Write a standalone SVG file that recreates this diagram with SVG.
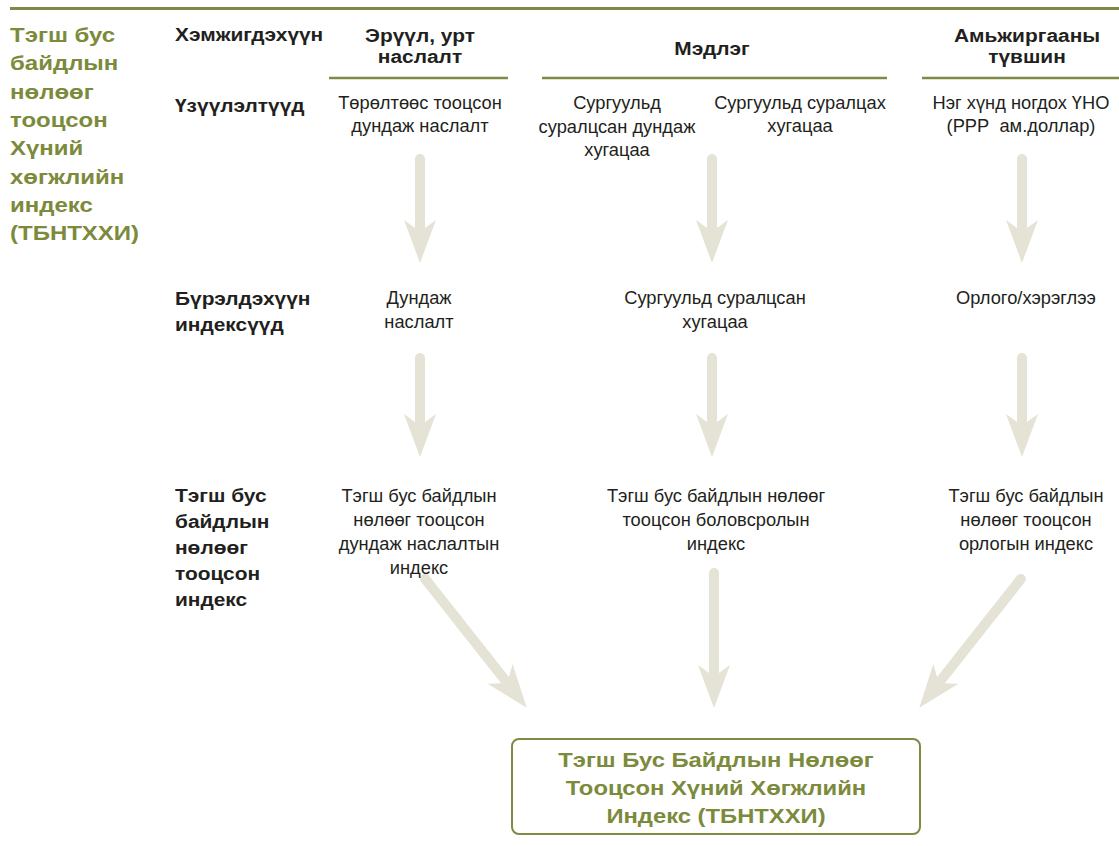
<svg xmlns="http://www.w3.org/2000/svg" width="1119" height="846" viewBox="0 0 1119 846">
<style>
.t{font-family:"Liberation Sans",Arial,sans-serif;font-size:18.3px;fill:#231f20;text-anchor:middle}
.b{font-family:"Liberation Sans",Arial,sans-serif;font-size:19px;font-weight:bold;fill:#231f20}
.h{text-anchor:middle}
.g{font-family:"Liberation Sans",Arial,sans-serif;font-size:20px;font-weight:bold;fill:#7b8a3b}
.ln{stroke:#7f8a45;stroke-width:2.5;fill:none}
.ar{fill:#e5e3d5}
</style>
<rect width="1119" height="846" fill="#fff"/>
<line x1="10" y1="8.5" x2="1119" y2="8.5" stroke="#7f8a45" stroke-width="3"/>
<g id="title">
<text class="g" transform="translate(10,0) scale(1.2,1)"><tspan x="0" y="42">Тэгш бус</tspan><tspan x="0" y="70.3">байдлын</tspan><tspan x="0" y="98.6">нөлөөг</tspan><tspan x="0" y="127">тооцсон</tspan><tspan x="0" y="155.3">Хүний</tspan><tspan x="0" y="183.6">хөгжлийн</tspan><tspan x="0" y="212">индекс</tspan><tspan x="0" y="240.3">(ТБНТХХИ)</tspan></text>
</g>
<g id="rowlabels">
<text class="b" transform="translate(175,0) scale(1.1,1)" x="0" y="41">Хэмжигдэхүүн</text>
<text class="b" transform="translate(175,0) scale(1.1,1)" x="0" y="112">Үзүүлэлтүүд</text>
<text class="b" transform="translate(175,0) scale(1.1,1)"><tspan x="0" y="305">Бүрэлдэхүүн</tspan><tspan x="0" y="331">индексүүд</tspan></text>
<text class="b" transform="translate(175,0) scale(1.1,1)"><tspan x="0" y="502">Тэгш бус</tspan><tspan x="0" y="528">байдлын</tspan><tspan x="0" y="554">нөлөөг</tspan><tspan x="0" y="580">тооцсон</tspan><tspan x="0" y="606">индекс</tspan></text>
</g>
<g id="col-health">
<text class="b h" transform="translate(420,0) scale(1.1,1)"><tspan x="0" y="42">Эрүүл, урт</tspan><tspan x="0" y="63.5">наслалт</tspan></text>
<line class="ln" x1="329" y1="78" x2="508" y2="78"/>
</g>
<g id="col-knowledge">
<text class="b h" transform="translate(712,0) scale(1.1,1)" x="0" y="55">Мэдлэг</text>
<line class="ln" x1="542" y1="78" x2="887" y2="78"/>
</g>
<g id="col-living">
<text class="b h" transform="translate(1027,0) scale(1.1,1)"><tspan x="0" y="42">Амьжиргааны</tspan><tspan x="0" y="63.5">түвшин</tspan></text>
<line class="ln" x1="922" y1="78" x2="1119" y2="78"/>
</g>
<g id="connectors">
<path class="ar" transform="translate(420,154)" d="M0,109 L-16,66 L-5,74 L-5,5 A5,5 0 0 1 5,5 L5,74 L16,66 Z"/>
<path class="ar" transform="translate(712,154)" d="M0,109 L-16,66 L-5,74 L-5,5 A5,5 0 0 1 5,5 L5,74 L16,66 Z"/>
<path class="ar" transform="translate(1022,154)" d="M0,109 L-16,66 L-5,74 L-5,5 A5,5 0 0 1 5,5 L5,74 L16,66 Z"/>
<path class="ar" transform="translate(420,353)" d="M0,104 L-16,61 L-5,69 L-5,5 A5,5 0 0 1 5,5 L5,69 L16,61 Z"/>
<path class="ar" transform="translate(712,353)" d="M0,104 L-16,61 L-5,69 L-5,5 A5,5 0 0 1 5,5 L5,69 L16,61 Z"/>
<path class="ar" transform="translate(1022,353)" d="M0,104 L-16,61 L-5,69 L-5,5 A5,5 0 0 1 5,5 L5,69 L16,61 Z"/>
<path class="ar" transform="translate(422,575) rotate(-38.3)" d="M0,169 L-16,126 L-5,134 L-5,5 A5,5 0 0 1 5,5 L5,134 L16,126 Z"/>
<path class="ar" transform="translate(714,568)" d="M0,140 L-16,97 L-5,105 L-5,5 A5,5 0 0 1 5,5 L5,105 L16,97 Z"/>
<path class="ar" transform="translate(1024,575) rotate(38.3)" d="M0,169 L-16,126 L-5,134 L-5,5 A5,5 0 0 1 5,5 L5,134 L16,126 Z"/>
</g>
<g id="ind-life">
<text class="t"><tspan x="420" y="109">Төрөлтөөс тооцсон</tspan><tspan x="420" y="132">дундаж наслалт</tspan></text>
</g>
<g id="ind-meanschool">
<text class="t"><tspan x="617" y="109">Сургуульд</tspan><tspan x="617" y="132.5">суралцсан дундаж</tspan><tspan x="617" y="156">хугацаа</tspan></text>
</g>
<g id="ind-expschool">
<text class="t"><tspan x="800" y="109">Сургуульд суралцах</tspan><tspan x="800" y="132">хугацаа</tspan></text>
</g>
<g id="ind-gni">
<text class="t"><tspan x="1021" y="109">Нэг хүнд ногдох ҮНО</tspan><tspan x="1021" y="132">(PPP&#160; ам.доллар)</tspan></text>
</g>
<g id="comp-life">
<text class="t"><tspan x="419" y="304">Дундаж</tspan><tspan x="419" y="328">наслалт</tspan></text>
</g>
<g id="comp-school">
<text class="t"><tspan x="715" y="304">Сургуульд суралцсан</tspan><tspan x="715" y="328">хугацаа</tspan></text>
</g>
<g id="comp-income">
<text class="t" x="1026" y="304">Орлого/хэрэглээ</text>
</g>
<g id="ihdi-life">
<text class="t"><tspan x="419" y="502">Тэгш бус байдлын</tspan><tspan x="419" y="526">нөлөөг тооцсон</tspan><tspan x="419" y="550">дундаж наслалтын</tspan><tspan x="419" y="574">индекс</tspan></text>
</g>
<g id="ihdi-edu">
<text class="t"><tspan x="716" y="502">Тэгш бус байдлын нөлөөг</tspan><tspan x="716" y="526">тооцсон боловсролын</tspan><tspan x="716" y="550">индекс</tspan></text>
</g>
<g id="ihdi-income">
<text class="t"><tspan x="1026" y="502">Тэгш бус байдлын</tspan><tspan x="1026" y="526">нөлөөг тооцсон</tspan><tspan x="1026" y="550">орлогын индекс</tspan></text>
</g>
<g id="ihdi">
<rect x="512" y="739" width="408" height="95" rx="7" fill="#fff" stroke="#7f8a45" stroke-width="2"/>
<text class="g h" font-size="21" transform="translate(716,0) scale(1.19,1)"><tspan x="0" y="767">Тэгш Бус Байдлын Нөлөөг</tspan><tspan x="0" y="795">Тооцсон Хүний Хөгжлийн</tspan><tspan x="0" y="823">Индекс (ТБНТХХИ)</tspan></text>
</g>
</svg>
